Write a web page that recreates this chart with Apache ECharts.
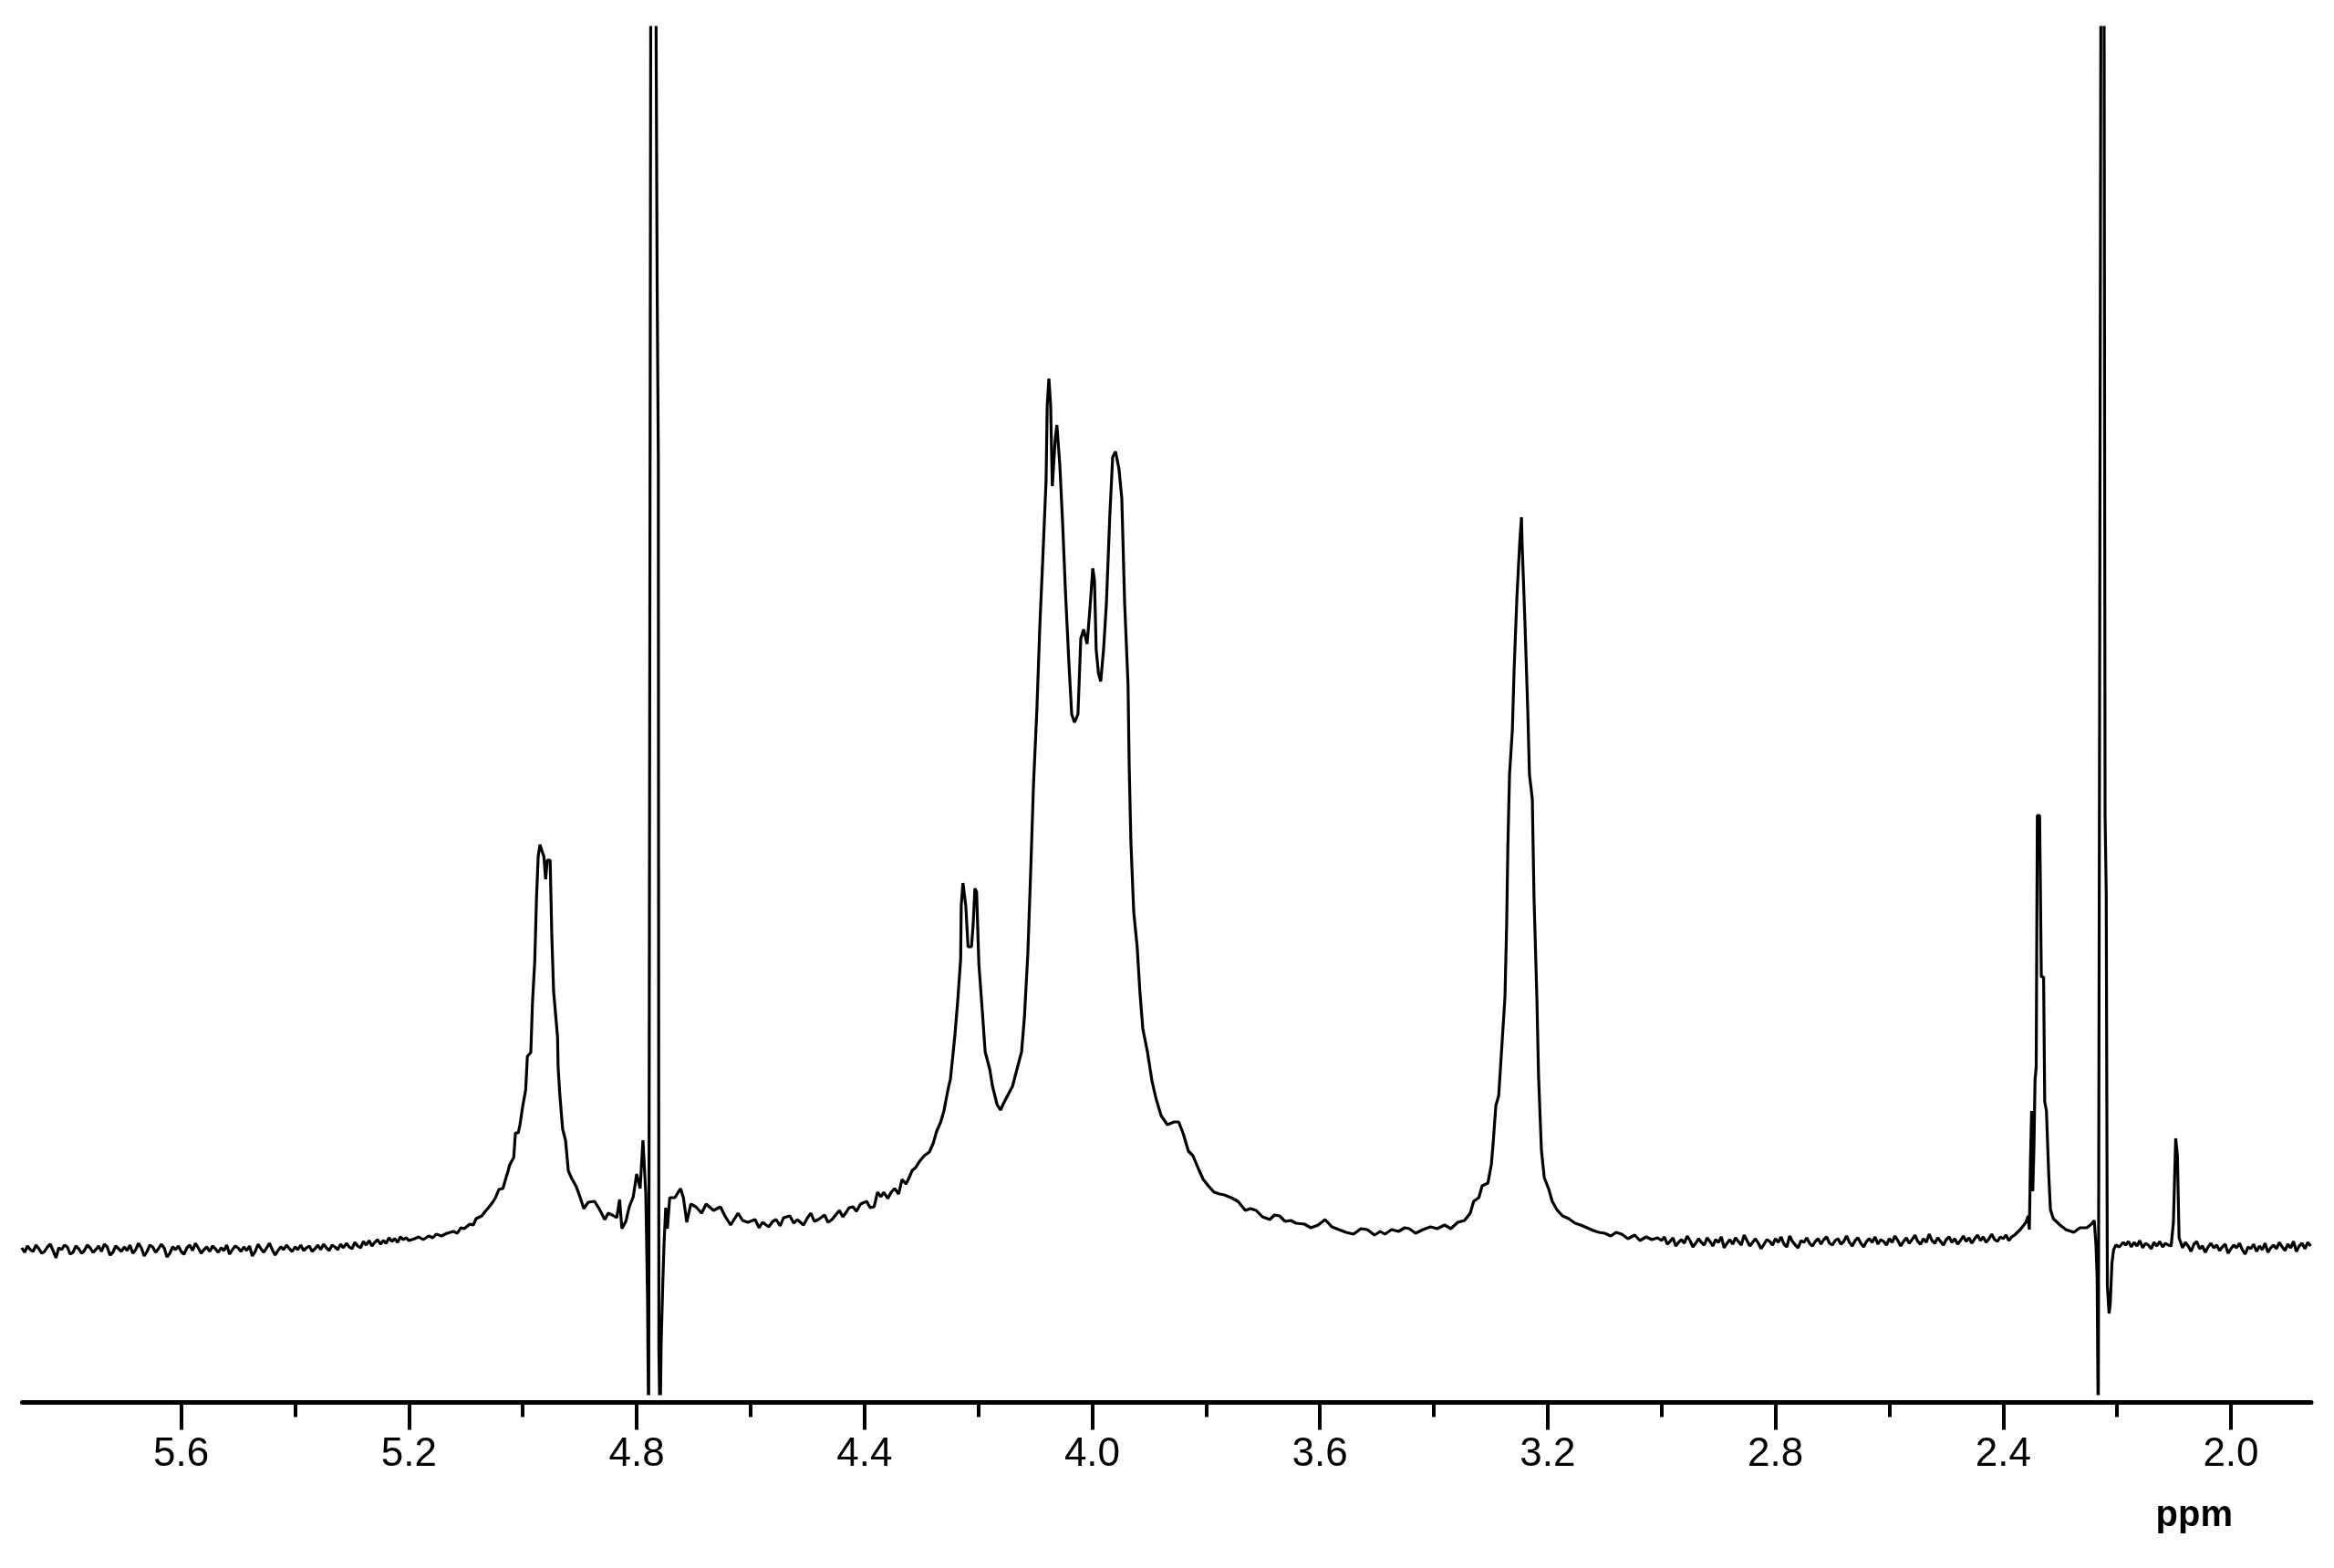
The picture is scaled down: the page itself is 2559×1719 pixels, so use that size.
<!DOCTYPE html>
<html>
<head>
<meta charset="utf-8">
<title>1H NMR</title>
<script src="https://cdn.jsdelivr.net/npm/echarts/dist/echarts.min.js"></script>
<style>
	html, body { margin: 0; padding: 0; background: #fff; }
	#nmrChart { width: 2559px; height: 1719px; }
</style>
</head>
<body>
<div id="nmrChart"></div>
<script>
// chemical shift (ppm) / intensity (a.u.) pairs

// flat baseline on the low-field side
var baselineLeft = [
	[5.880,2],[5.875,-3],[5.870,4],[5.865,0],[5.860,-2],[5.855,5],[5.850,1],[5.845,-4],[5.840,-2],[5.835,3],
	[5.830,6],[5.825,-1],[5.820,-9],[5.815,2],[5.810,0],[5.805,5],[5.800,3],[5.795,-5],[5.790,-3],[5.785,4],
	[5.780,1],[5.775,-4],[5.770,-1],[5.765,5],[5.760,2],[5.755,-3],[5.750,0],[5.745,4],[5.740,-2],[5.735,6],
	[5.730,3],[5.725,-6],[5.720,-3],[5.715,4],[5.710,1],[5.705,-2],[5.700,3],[5.695,-1],[5.690,5],[5.685,-4],
	[5.680,0],[5.675,7],[5.670,2],[5.665,-7],[5.660,-2],[5.655,5],[5.650,3],[5.645,-3],[5.640,1],[5.635,6],
	[5.630,2],[5.625,-8],[5.620,-4],[5.615,3],[5.610,0],[5.605,4],[5.600,-2],[5.595,-5],[5.590,2],[5.585,5],
	[5.580,-1],[5.575,7],[5.570,2],[5.565,-4],[5.560,0],[5.555,3],[5.550,-2],[5.545,4],[5.540,1],[5.535,-3],
	[5.530,2],[5.525,-1],[5.520,5],[5.515,-5],[5.510,0],[5.505,4],[5.500,2],[5.495,-2],[5.490,3],[5.485,-1],
	[5.480,4],[5.475,-7],[5.470,-2],[5.465,6],[5.460,1],[5.455,-3],[5.450,2],[5.445,7],[5.440,0],[5.435,-6],
	[5.430,-1],[5.425,3],[5.420,0],[5.415,5],[5.410,1],[5.405,-2],[5.400,3],[5.395,0],[5.390,5],[5.385,-1],
	[5.380,2],[5.375,4],[5.370,-2],[5.365,1],[5.360,5],[5.355,0],[5.350,6],[5.345,2],[5.340,-1],[5.335,5],
	[5.330,3],[5.325,0],[5.320,6],[5.315,2],[5.310,7],[5.305,3],[5.300,1],[5.295,8],[5.290,4],[5.285,2],
	[5.280,9],[5.275,5],[5.270,10],[5.265,4],[5.260,8],[5.255,11],[5.250,6],[5.245,10],[5.240,7],[5.235,13],
	[5.230,9],[5.225,12],[5.220,8],[5.215,14],[5.210,11],[5.205,13]
];

// anomeric doublet ~4.96
var peak496 = [
	[5.200,10],[5.190,12],[5.183,14],[5.175,11],[5.165,15],[5.158,13],[5.152,17],[5.143,15],[5.133,18],
	[5.122,20],[5.115,18],[5.109,24],[5.103,23],[5.093,28],[5.087,27],[5.082,34],[5.072,37],[5.066,42],
	[5.059,47],[5.053,52],[5.048,57],[5.042,66],[5.035,67],[5.029,80],[5.026,86],[5.023,93],[5.016,101],
	[5.013,128],[5.008,128],[5.005,137],[5.000,158],[4.995,175],[4.992,212],[4.986,216],[4.983,271],
	[4.979,317],[4.976,385],[4.973,431],[4.970,444],[4.967,444],[4.963,431],[4.960,406],[4.957,427],
	[4.952,427],[4.949,343],[4.946,284],[4.939,233],[4.938,200],[4.935,170],[4.930,132],[4.925,120],
	[4.920,86],[4.914,78],[4.906,69],[4.898,55],[4.893,45],[4.885,52],[4.874,53],[4.866,45],[4.856,33],
	[4.850,40],[4.843,38],[4.835,35],[4.830,55],[4.826,23],[4.819,31],[4.813,47],[4.806,58],[4.800,83],
	[4.794,67],[4.789,120],[4.786,120],[4.784,62]
];

// residual HDO, dispersive, runs off the plot
var waterPeak = [
	[4.781,-50],[4.779,-200],[4.777,-200],[4.775,1500],[4.767,1500],[4.764,1050],[4.762,866],
	[4.761,-110],[4.759,-200],[4.757,-102],[4.754,-33],[4.752,6],[4.749,46],[4.746,23],[4.742,57]
];

// baseline between water and the ring protons
var midBaseline = [
	[4.733,57],[4.723,67],[4.718,57],[4.712,30],[4.705,50],[4.696,47],[4.686,40],[4.678,50],[4.665,43],
	[4.653,47],[4.645,37],[4.635,27],[4.622,40],[4.614,32],[4.605,30],[4.592,33],[4.585,24],[4.579,30],
	[4.568,25],[4.561,31],[4.555,33],[4.548,26],[4.542,35],[4.531,37],[4.524,29],[4.518,33],[4.507,27],
	[4.500,35],[4.494,40],[4.488,31],[4.481,33],[4.470,38],[4.464,30],[4.457,33],[4.444,43],[4.438,36],
	[4.433,40],[4.427,46],[4.420,47],[4.414,42],[4.407,50],[4.396,53],[4.390,46],[4.383,47],[4.377,63],
	[4.371,58],[4.366,63],[4.359,56],[4.353,63],[4.347,67],[4.340,61],[4.334,77],[4.327,72],[4.323,77],
	[4.316,87],[4.310,90],[4.303,97],[4.295,103],[4.286,107],[4.279,117],[4.273,130],[4.266,140],
	[4.260,153],[4.255,170]
];

// ring proton cluster 4.25 - 3.80
var ringCluster = [
	[4.252,179],[4.249,187],[4.246,205],[4.241,236],[4.236,274],[4.231,319],[4.230,377],[4.227,402],
	[4.225,402],[4.222,377],[4.218,332],[4.212,332],[4.209,357],[4.206,396],[4.203,392],[4.199,313],
	[4.193,262],[4.188,217],[4.180,198],[4.175,179],[4.167,159],[4.161,153],[4.156,160],[4.151,166],
	[4.140,179],[4.132,198],[4.124,217],[4.119,255],[4.113,325],[4.108,415],[4.103,511],[4.097,594],
	[4.092,683],[4.087,754],[4.081,843],[4.079,926],[4.076,955],[4.073,926],[4.070,837],[4.065,888],
	[4.062,904],[4.057,862],[4.052,798],[4.047,722],[4.041,645],[4.036,587],[4.031,578],[4.025,587],
	[4.020,670],[4.015,680],[4.009,664],[4.004,702],[3.999,747],[3.996,734],[3.993,658],[3.989,632],
	[3.985,623],[3.980,658],[3.975,709],[3.969,805],[3.964,869],[3.959,875],[3.953,856],[3.948,824],
	[3.943,709],[3.937,619],[3.935,530],[3.932,447],[3.927,370],[3.921,332],[3.916,281],[3.911,242],
	[3.903,217],[3.895,185],[3.888,166],[3.879,147],[3.868,137],[3.856,140],[3.848,140],[3.840,127],
	[3.831,108],[3.823,103],[3.813,88],[3.805,77]
];

// tail down to the 3.25 singlet and back
var peak325 = [
	[3.796,70],[3.786,63],[3.776,61],[3.768,60],[3.756,57],[3.744,53],[3.731,43],[3.722,45],[3.712,43],
	[3.701,36],[3.688,33],[3.680,38],[3.671,37],[3.661,31],[3.651,32],[3.642,29],[3.627,28],[3.616,24],
	[3.603,27],[3.591,33],[3.579,25],[3.567,22],[3.554,19],[3.541,17],[3.528,23],[3.517,22],[3.504,16],
	[3.494,20],[3.486,17],[3.474,22],[3.462,20],[3.451,24],[3.443,23],[3.432,18],[3.419,22],[3.406,25],
	[3.394,23],[3.381,27],[3.370,23],[3.358,30],[3.346,32],[3.336,40],[3.330,53],[3.321,57],[3.315,70],
	[3.305,73],[3.299,93],[3.296,115],[3.291,158],[3.286,169],[3.280,228],[3.275,277],[3.272,358],
	[3.270,440],[3.267,521],[3.262,570],[3.259,635],[3.254,716],[3.249,776],[3.246,803],[3.245,776],
	[3.240,689],[3.235,592],[3.232,521],[3.227,494],[3.224,386],[3.219,277],[3.216,190],[3.211,109],
	[3.206,79],[3.198,66],[3.192,53],[3.184,44],[3.174,37],[3.163,34],[3.152,29],[3.142,27],[3.131,24],
	[3.120,21],[3.110,19],[3.100,18],[3.089,15],[3.080,19],[3.070,17],[3.059,12],[3.047,16],[3.038,10],
	[3.027,14],[3.017,11],[3.007,13]
];

// baseline 3.0 - 2.39
var baselineMid = [
	[3.000,10],[2.995,14],[2.990,6],[2.985,9],[2.980,13],[2.975,4],[2.970,8],[2.965,11],[2.960,7],[2.955,15],
	[2.950,10],[2.945,3],[2.940,7],[2.935,12],[2.930,8],[2.925,5],[2.920,13],[2.915,9],[2.910,4],[2.905,11],
	[2.900,8],[2.895,14],[2.890,2],[2.885,7],[2.880,11],[2.875,6],[2.870,13],[2.865,9],[2.860,5],[2.855,16],
	[2.850,10],[2.845,4],[2.840,8],[2.835,12],[2.830,7],[2.825,1],[2.820,6],[2.815,11],[2.810,9],[2.805,5],
	[2.800,12],[2.795,8],[2.790,14],[2.785,6],[2.780,3],[2.775,15],[2.770,9],[2.765,5],[2.760,2],[2.755,10],
	[2.750,8],[2.745,13],[2.740,7],[2.735,4],[2.730,9],[2.725,12],[2.720,6],[2.715,11],[2.710,14],[2.705,7],
	[2.700,5],[2.695,10],[2.690,12],[2.685,6],[2.680,9],[2.675,15],[2.670,8],[2.665,4],[2.660,10],[2.655,13],
	[2.650,7],[2.645,3],[2.640,9],[2.635,12],[2.630,8],[2.625,14],[2.620,6],[2.615,11],[2.610,9],[2.605,5],
	[2.600,12],[2.595,8],[2.590,15],[2.585,10],[2.580,4],[2.575,9],[2.570,13],[2.565,7],[2.560,11],[2.555,16],
	[2.550,9],[2.545,6],[2.540,12],[2.535,8],[2.530,17],[2.525,10],[2.520,7],[2.515,13],[2.510,9],[2.505,5],
	[2.500,11],[2.495,14],[2.490,8],[2.485,12],[2.480,6],[2.475,10],[2.470,15],[2.465,9],[2.460,13],[2.455,7],
	[2.450,12],[2.445,16],[2.440,10],[2.435,14],[2.430,8],[2.425,12],[2.420,17],[2.415,11],[2.410,9],[2.405,14],
	[2.400,12],[2.395,16],[2.390,10],[2.385,14]
];

// 2.34 multiplet + dispersive line at 2.22
var peak234 = [
	[2.380,16],[2.370,22],[2.360,30],[2.356,37],[2.354,22],[2.352,100],[2.350,152],[2.348,64],
	[2.346,110],[2.344,187],[2.342,200],[2.340,476],[2.336,476],[2.333,299],[2.329,299],[2.327,162],
	[2.324,152],[2.320,83],[2.317,44],[2.312,34],[2.300,27],[2.290,22],[2.276,19],[2.265,24],[2.253,24],
	[2.245,28],[2.240,32],[2.237,5],[2.235,-30],[2.233,-200],[2.230,-200],[2.228,1500],[2.223,1500],
	[2.221,476],[2.219,390],[2.217,-40],[2.214,-70],[2.212,-60],[2.209,-15],[2.206,0],[2.202,5],
	[2.196,3],[2.189,8]
];

// high-field baseline with the small line at 2.10
var baselineRight = [
	[2.185,5],[2.180,9],[2.175,3],[2.170,8],[2.165,4],[2.160,10],[2.155,2],[2.150,7],[2.145,5],[2.140,1],
	[2.135,8],[2.130,4],[2.125,9],[2.120,3],[2.115,7],[2.110,5],[2.105,4],[2.101,30],[2.097,122],[2.094,103],
	[2.091,13],[2.085,2],[2.080,8],[2.075,4],[2.070,-2],[2.065,6],[2.060,9],[2.055,1],[2.050,4],[2.045,-3],
	[2.040,3],[2.035,7],[2.030,2],[2.025,5],[2.020,-1],[2.015,3],[2.010,6],[2.005,-4],[2.000,1],[1.995,5],
	[1.990,2],[1.985,7],[1.980,0],[1.975,-5],[1.970,3],[1.965,1],[1.960,6],[1.955,-2],[1.950,4],[1.945,0],
	[1.940,7],[1.935,-3],[1.930,2],[1.925,5],[1.920,1],[1.915,8],[1.910,3],[1.905,-1],[1.900,6],[1.895,2],
	[1.890,9],[1.885,-2],[1.880,4],[1.875,7],[1.870,1],[1.865,8],[1.860,4]
];

// tick positions (ppm)
var majorTicks = [5.6, 5.2, 4.8, 4.4, 4.0, 3.6, 3.2, 2.8, 2.4, 2.0];
var minorTicks = [5.4, 5.0, 4.6, 4.2, 3.8, 3.4, 3.0, 2.6, 2.2];

var spectrum = baselineLeft.concat(peak496, waterPeak, midBaseline, ringCluster,
	peak325, baselineMid, peak234, baselineRight);

var myChart = echarts.init(document.getElementById('nmrChart'));

var fontFam = '"Liberation Sans", Arial, Helvetica, sans-serif';

myChart.setOption({
	backgroundColor: '#fff',
	animation: false,
	grid: { left: 24.5, right: 25, top: 30, bottom: 191 },
	xAxis: [
		{
			type: 'value',
			inverse: true,
			min: 1.859,
			max: 5.879,
			offset: 9.5,
			position: 'bottom',
			axisLine: { show: true, onZero: false, lineStyle: { color: '#000', width: 5 } },
			axisTick: { show: true, customValues: majorTicks, length: 30, lineStyle: { color: '#000', width: 4 } },
			axisLabel: {
				customValues: majorTicks,
				margin: 35,
				color: '#000',
				fontSize: 44,
				fontFamily: fontFam,
				formatter: function (v) { return v.toFixed(1); }
			},
			splitLine: { show: false }
		},
		{
			// short unlabeled ticks
			type: 'value',
			inverse: true,
			min: 1.859,
			max: 5.879,
			offset: 9.5,
			position: 'bottom',
			axisLine: { show: false, onZero: false },
			axisTick: { show: true, customValues: minorTicks, length: 16, lineStyle: { color: '#000', width: 4 } },
			axisLabel: { show: false },
			splitLine: { show: false }
		}
	],
	yAxis: {
		type: 'value',
		min: -158,
		max: 1340,
		show: false
	},
	series: [
		{
			type: 'line',
			data: spectrum,
			symbol: 'none',
			clip: true,
			lineStyle: { color: '#000', width: 3.2 }
		}
	],
	graphic: [
		{
			type: 'text',
			right: 111,
			top: 1642,
			style: {
				text: 'ppm',
				fill: '#000',
				font: 'bold 40px ' + fontFam
			}
		}
	]
});
</script>
</body>
</html>
